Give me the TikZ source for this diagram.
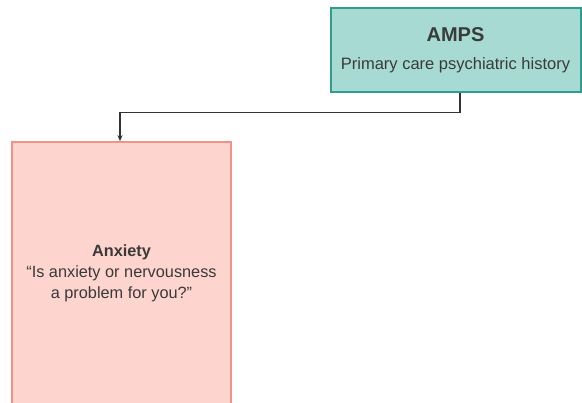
\documentclass[tikz,border=0pt]{standalone}
\usepackage{fontspec}
\setmainfont{Liberation Sans}
\usetikzlibrary{arrows.meta}
\definecolor{tealfill}{HTML}{A6DAD2}
\definecolor{tealline}{HTML}{2E9E8E}
\definecolor{pinkfill}{HTML}{FDD5CE}
\definecolor{pinkline}{HTML}{F2928A}
\definecolor{txt}{HTML}{3A3A3A}
\definecolor{conn}{HTML}{333333}
\tikzset{
  ampsbox/.style={draw=tealline, line width=2pt, fill=tealfill, minimum width=250pt, minimum height=84pt, align=center, text=txt, inner sep=0pt, font=\fontsize{16.5}{20}\selectfont},
  anxbox/.style={draw=pinkline, line width=1.6pt, fill=pinkfill, minimum width=219pt, minimum height=262pt, align=center, text=txt, inner sep=0pt, font=\fontsize{16.3}{21}\selectfont},
  connector/.style={draw=conn, line width=1.3pt, -{Stealth[length=6pt,width=5pt]}}
}
\begin{document}
\begin{tikzpicture}[x=1pt,y=-1pt]
\useasboundingbox (0,0) rectangle (582,403);
\fill[white] (0,0) rectangle (582,403);
\node[ampsbox] (amps) at (455.5,50.5) {{\fontsize{20}{22}\selectfont\bfseries AMPS}\\[8pt]Primary care psychiatric history};
\node[anxbox] (anx) at (121.5,273) {{\bfseries Anxiety}\\“Is anxiety or nervousness\\a problem for you?”};
\coordinate (bend) at ([xshift=4.5pt]amps.south);
\draw[connector] (bend) -- ++(0,19) -| ([xshift=-1.5pt]anx.north);
\end{tikzpicture}
\end{document}
